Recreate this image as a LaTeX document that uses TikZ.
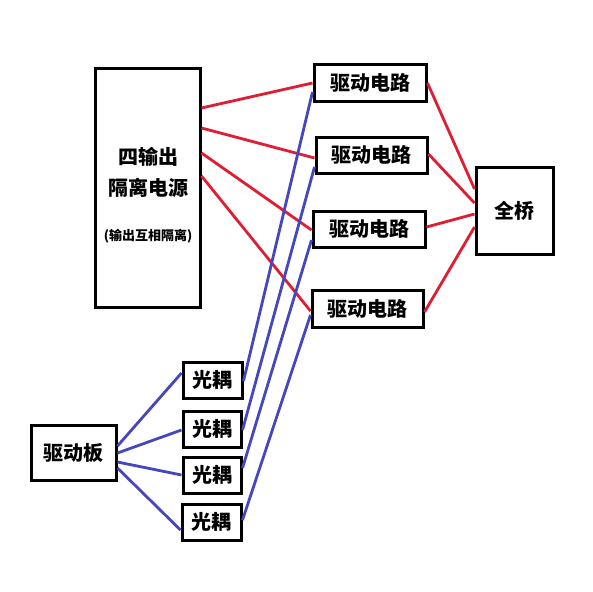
\documentclass[tikz,border=0pt]{standalone}
\usepackage{fontspec}
\newfontfamily\cjk{Noto Sans CJK SC}
\definecolor{wirered}{RGB}{222,30,50}
\definecolor{wireblue}{RGB}{70,70,190}
\begin{document}
\begin{tikzpicture}[x=1pt, y=-1pt, line width=2.8pt]
		\tikzstyle{block} = [rectangle, draw, line width=3pt, inner sep=0pt, font=\cjk\bfseries\fontsize{20}{24}\selectfont]
		\tikzstyle{label} = [inner sep=0pt, font=\cjk\bfseries\fontsize{20}{24}\selectfont]
		\tikzstyle{redwire} = [draw=wirered]
		\tikzstyle{bluewire} = [draw=wireblue]
		\useasboundingbox[fill=white] (0,0) rectangle (593,591);
		\node[block, minimum width=105, minimum height=238](P) at (147.5,188) {};
		\node[label](P1) at (148,157) {四输出};
		\node[label](P2) at (148,188) {隔离电源};
		\node[label, font=\cjk\bfseries\fontsize{13}{15}\selectfont](P3) at (148,236) {(输出互相隔离)};
		\node[block, minimum width=112, minimum height=36](D1) at (370,83) {驱动电路};
		\node[block, minimum width=111, minimum height=36](D2) at (371.5,155) {驱动电路};
		\node[block, minimum width=112, minimum height=36](D3) at (369,229) {驱动电路};
		\node[block, minimum width=111, minimum height=37](D4) at (367.5,308.5) {驱动电路};
		\node[block, minimum width=77, minimum height=87](B) at (514.5,210.5) {全桥};
		\node[block, minimum width=85, minimum height=55](K) at (73.5,452.5) {驱动板};
		\node[block, minimum width=59, minimum height=36](O1) at (212.5,380) {光耦};
		\node[block, minimum width=58, minimum height=36](O2) at (212,429) {光耦};
		\node[block, minimum width=58, minimum height=36](O3) at (212,475) {光耦};
		\node[block, minimum width=59, minimum height=36](O4) at (211.5,522) {光耦};
		\path[redwire] ([yshift=80]P.east) -- (D1.west);
		\path[redwire] ([yshift=60]P.east) -- ([yshift=-3]D2.west);
		\path[redwire] ([yshift=35]P.east) -- ([yshift=-1]D3.west);
		\path[redwire] ([yshift=12]P.east) -- ([yshift=-2.5]D4.west);
		\path[redwire] (D1.east) -- ([yshift=21.5]B.west);
		\path[redwire] ([yshift=1]D2.east) -- ([yshift=7.5]B.west);
		\path[redwire] ([yshift=2]D3.east) -- ([yshift=-3.5]B.west);
		\path[redwire] ([yshift=-3.5]D4.east) -- ([yshift=-16.5]B.west);
		\path[bluewire] ([yshift=6.5]K.east) -- ([yshift=7]O1.west);
		\path[bluewire] ([yshift=-0.5]K.east) -- ([yshift=-1]O2.west);
		\path[bluewire] ([yshift=-9.5]K.east) -- (O3.west);
		\path[bluewire] ([yshift=-15.5]K.east) -- ([yshift=-8]O4.west);
		\path[bluewire] ([yshift=-1]O1.east) -- ([yshift=-9]D1.west);
		\path[bluewire] ([yshift=-1]O2.east) -- ([yshift=-12]D2.west);
		\path[bluewire] ([yshift=7]O3.east) -- ([yshift=-11]D3.west);
		\path[bluewire] ([yshift=2]O4.east) -- ([yshift=-6.5]D4.west);
	\end{tikzpicture}
\end{document}
